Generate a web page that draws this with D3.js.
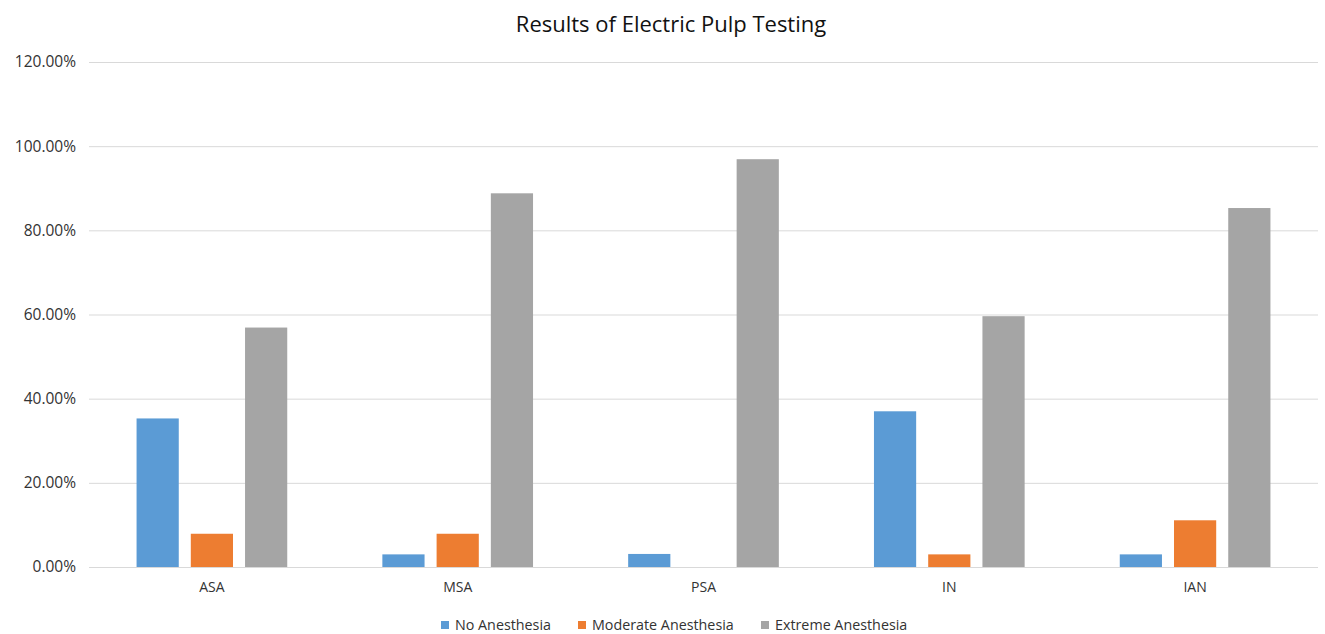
<!DOCTYPE html>
<html><head><meta charset="utf-8">
<script src="https://cdn.jsdelivr.net/npm/d3@7"></script>
<style>body{margin:0;background:#fff;} svg{display:block;font-family:"Open Sans",sans-serif;}</style>
</head><body>
<svg id="c" width="1325" height="634"></svg>
<script>
const categories = ["ASA","MSA","PSA","IN","IAN"];
const seriesNames = ["No Anesthesia","Moderate Anesthesia","Extreme Anesthesia"];
const noAnesthesia = [35.3, 3.0, 3.1, 37.0, 3.0];
const moderateAnesthesia = [7.9, 7.9, 0, 3.0, 11.1];
const extremeAnesthesia = [56.9, 88.8, 96.9, 59.6, 85.3];
const yTicks = [0,20,40,60,80,100,120];
const colors = ["#5B9BD5","#ED7D31","#A5A5A5"];
const seriesValues = [noAnesthesia, moderateAnesthesia, extremeAnesthesia];

const svg = d3.select("#c");
const L = 89, R = 1318, T = 62, B = 567;
const x0 = d3.scaleBand().domain(categories).range([L,R]).paddingInner(0.387).paddingOuter(0.1935);
const x1 = d3.scaleBand().domain(seriesNames).range([0,x0.bandwidth()]).paddingInner(0.222).paddingOuter(0);
const y = d3.scaleLinear().domain([0,120]).range([B,T]);

// gridlines
svg.append("g").selectAll("line").data(yTicks).join("line")
  .attr("x1",L).attr("x2",R).attr("y1",d=>y(d)+0.5).attr("y2",d=>y(d)+0.5)
  .attr("stroke","#d9d9d9").attr("stroke-width",1);

// y axis labels
const yAxis = d3.axisLeft(y).tickValues(yTicks).tickFormat(d=>d.toFixed(2)+"%").tickSize(0).tickPadding(13);
const gy = svg.append("g").attr("transform",`translate(${L},0)`).call(yAxis);
gy.select(".domain").remove();
gy.selectAll("text").attr("font-size",15.5).attr("fill","#333").attr("font-family","'Open Sans',sans-serif");

// bars
const groups = svg.append("g").selectAll("g").data(categories).join("g")
  .attr("transform",d=>`translate(${x0(d)},0)`);
groups.selectAll("rect").data((d,i)=>seriesNames.map((s,j)=>({s, v: seriesValues[j][i], c: colors[j]})))
  .join("rect")
  .attr("x",d=>x1(d.s)).attr("width",x1.bandwidth())
  .attr("y",d=>y(d.v)).attr("height",d=>B-y(d.v))
  .attr("fill",d=>d.c);

// x axis labels
const xAxis = d3.axisBottom(x0).tickSize(0).tickPadding(15);
const gx = svg.append("g").attr("transform",`translate(0,${B})`).call(xAxis);
gx.select(".domain").remove();
gx.selectAll("text").attr("font-size",14).attr("fill","#333").attr("font-family","'Open Sans',sans-serif");

// title
svg.append("text").attr("x",671).attr("y",32).attr("text-anchor","middle")
  .attr("font-size",22).attr("fill","#111").text("Results of Electric Pulp Testing");

// legend
const legendX = [441, 578, 761];
const lg = svg.append("g").selectAll("g").data(seriesNames).join("g")
  .attr("transform",(d,i)=>`translate(${legendX[i]},630)`);
lg.append("rect").attr("x",0).attr("y",-9).attr("width",8).attr("height",8).attr("fill",(d,i)=>colors[i]);
lg.append("text").attr("x",14).attr("y",0).attr("font-size",14.3).attr("fill","#333").text(d=>d);
</script>
</body></html>
